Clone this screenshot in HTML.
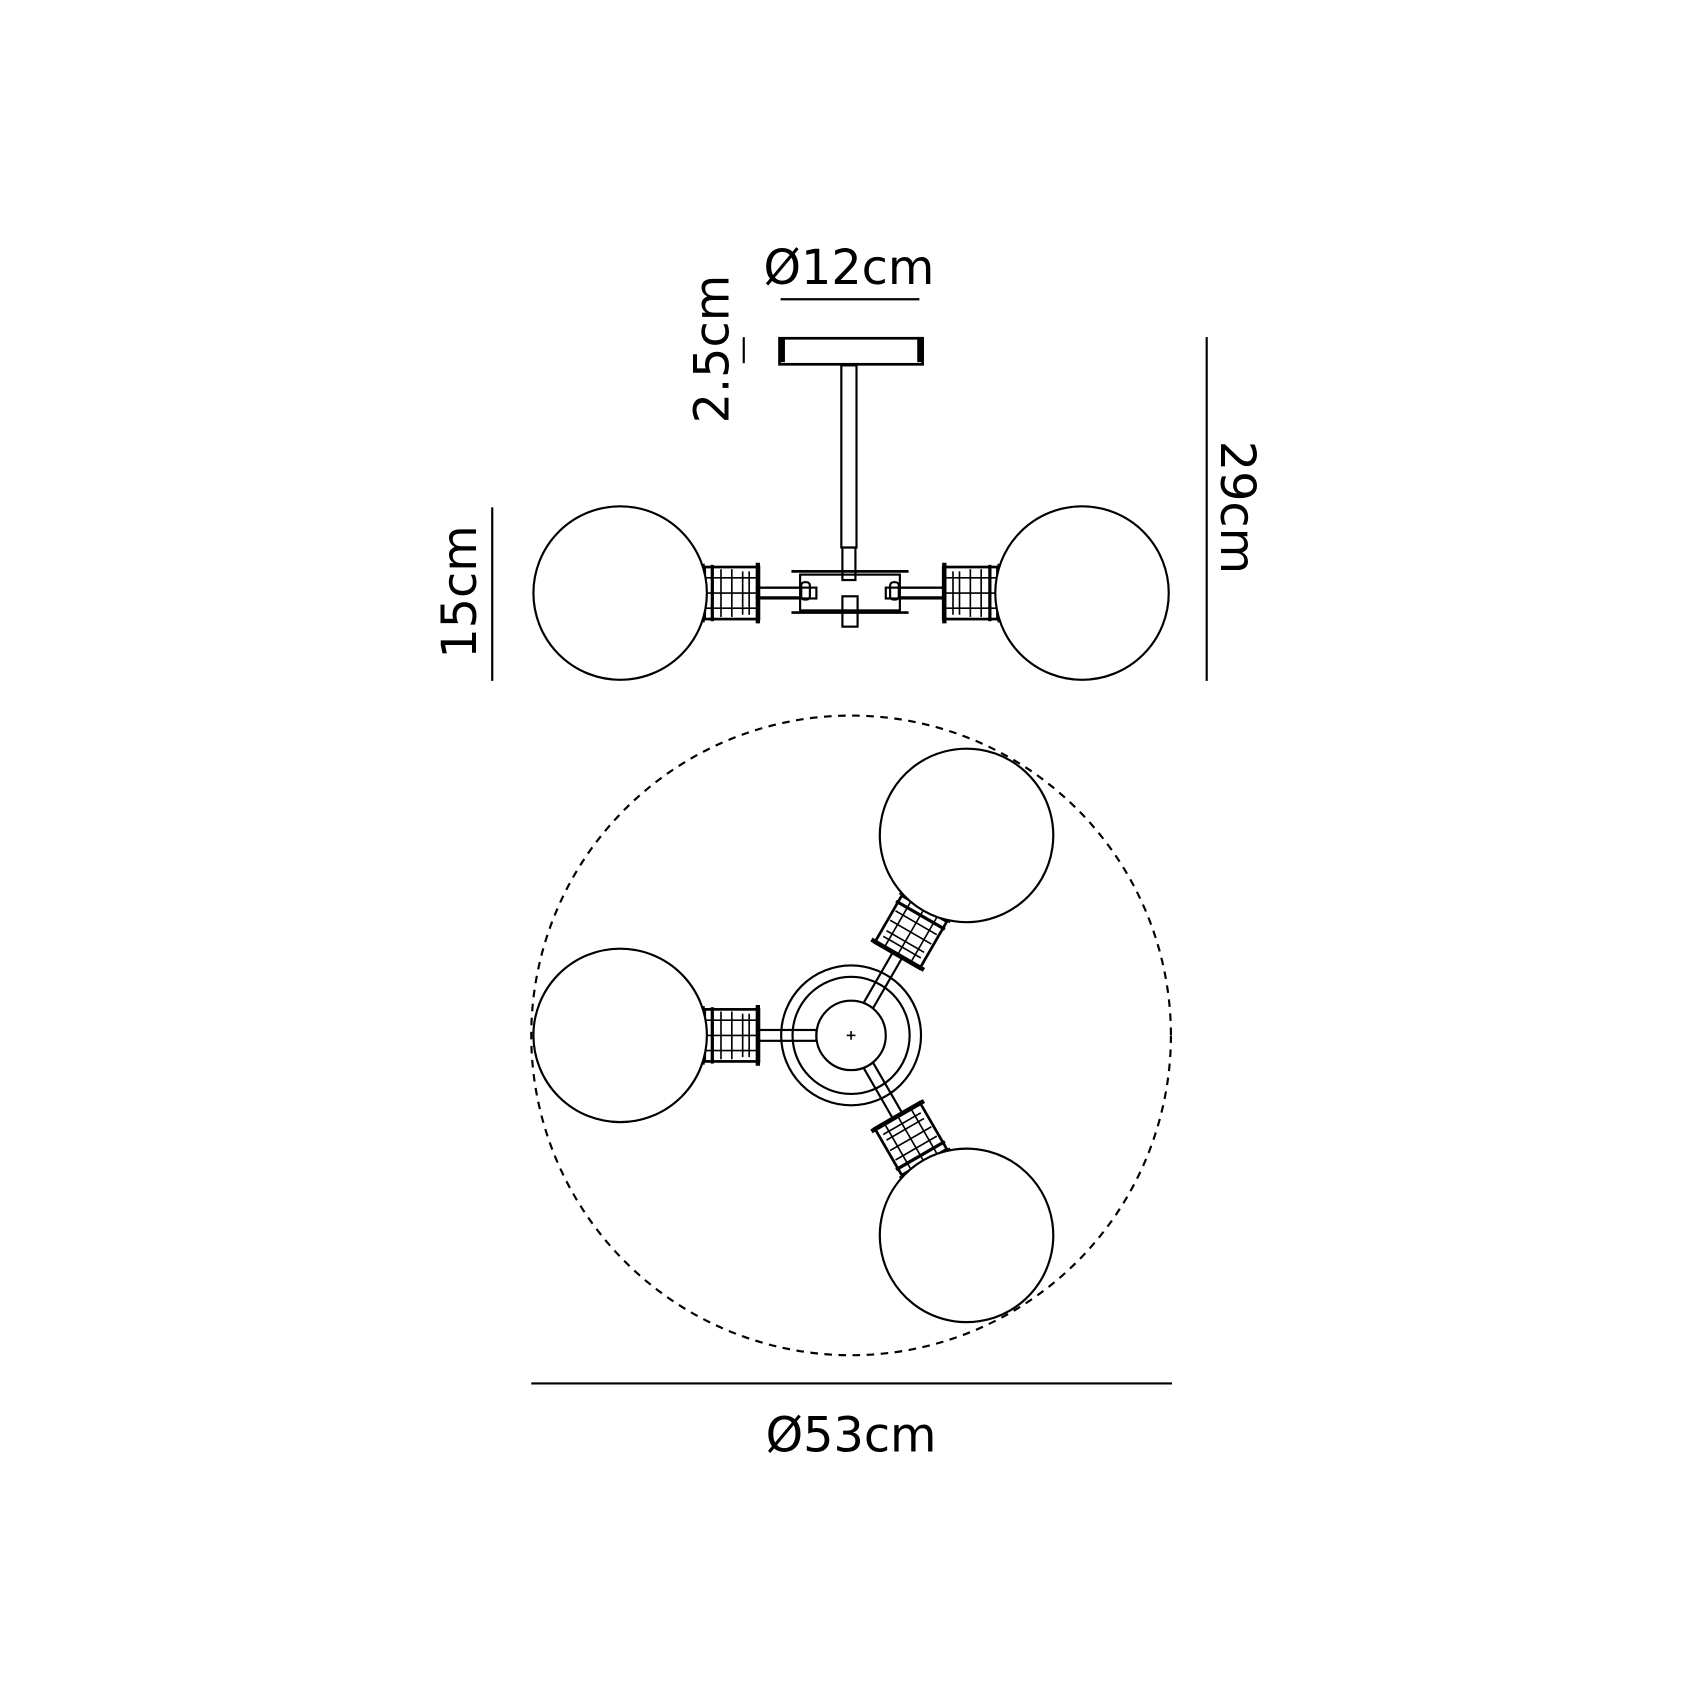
<!DOCTYPE html>
<html><head><style>html,body{margin:0;padding:0;background:#fff}svg{display:block}</style></head>
<body>
<svg width="1700" height="1700" viewBox="0 0 1568 1568" xmlns="http://www.w3.org/2000/svg" font-family="'DejaVu Sans','Liberation Sans',sans-serif" fill="none" stroke="#000">
<defs>
<g id="sock">
  <rect x="-85" y="-5" width="53" height="10" stroke-width="2"/>
  <rect x="-135" y="-24" width="50" height="48" stroke-width="2.5"/>
  <line x1="-137" y1="-27" x2="-137" y2="27" stroke-width="4"/>
  <line x1="-86" y1="-28" x2="-86" y2="28" stroke-width="4"/>
  <line x1="-128" y1="-26" x2="-128" y2="26" stroke-width="3"/>
  <line x1="-120" y1="-22" x2="-120" y2="22" stroke-width="1.5"/>
  <line x1="-110" y1="-22" x2="-110" y2="22" stroke-width="1.5"/>
  <line x1="-100" y1="-20" x2="-100" y2="20" stroke-width="1.5"/>
  <line x1="-94" y1="-20" x2="-94" y2="20" stroke-width="1.5"/>
  <line x1="-135" y1="-14" x2="-86" y2="-14" stroke-width="1.5"/>
  <line x1="-135" y1="0" x2="-86" y2="0" stroke-width="1.5"/>
  <line x1="-135" y1="14" x2="-86" y2="14" stroke-width="1.5"/>
  <circle cx="-213" cy="0" r="80" stroke-width="2" fill="#fff"/>
</g>
</defs>

<!-- side view -->
<text x="783" y="262" font-size="44" fill="#000" stroke="none" text-anchor="middle">Ø12cm</text>
<line x1="720" y1="276" x2="848" y2="276" stroke-width="2"/>
<rect x="719" y="312" width="132" height="24" stroke-width="2.5"/>
<line x1="722" y1="313" x2="722" y2="334" stroke-width="4"/>
<line x1="848" y1="313" x2="848" y2="334" stroke-width="4"/>
<text transform="translate(672,322) rotate(-90)" font-size="44" fill="#000" stroke="none" text-anchor="middle">2.5cm</text>
<line x1="686" y1="311" x2="686" y2="335" stroke-width="2"/>
<rect x="776" y="337" width="14" height="168" stroke-width="2"/>
<rect x="777" y="505" width="12" height="30" stroke-width="2"/>
<line x1="730" y1="527" x2="838" y2="527" stroke-width="2.5"/>
<line x1="730" y1="565" x2="838" y2="565" stroke-width="2.5"/>
<rect x="738" y="530" width="92" height="33" stroke-width="2"/>
<rect x="739" y="537" width="8" height="16" rx="3" stroke-width="2"/>
<rect x="821" y="537" width="8" height="16" rx="3" stroke-width="2"/>
<rect x="777" y="550" width="14" height="28" stroke-width="2"/>
<line x1="697" y1="542" x2="738" y2="542" stroke-width="2"/>
<line x1="697" y1="551" x2="738" y2="551" stroke-width="2"/>
<line x1="830" y1="542" x2="870" y2="542" stroke-width="2"/>
<line x1="830" y1="551" x2="870" y2="551" stroke-width="2"/>
<g transform="translate(785,547)"><use href="#sock"/></g>
<g transform="translate(785,547) scale(-1,1)"><use href="#sock"/></g>
<line x1="454" y1="468" x2="454" y2="628" stroke-width="2"/>
<text transform="translate(439,546) rotate(-90)" font-size="44" fill="#000" stroke="none" text-anchor="middle">15cm</text>
<line x1="1113" y1="311" x2="1113" y2="628" stroke-width="2"/>
<text transform="translate(1126,468) rotate(90)" font-size="44" fill="#000" stroke="none" text-anchor="middle">29cm</text>

<!-- top view -->
<circle cx="785" cy="955" r="295" stroke-width="2" stroke-dasharray="7,6"/>
<circle cx="785" cy="955" r="64.5" stroke-width="2"/>
<circle cx="785" cy="955" r="54" stroke-width="2"/>
<g transform="translate(785,955)"><use href="#sock"/></g>
<g transform="translate(785,955) rotate(120)"><use href="#sock"/></g>
<g transform="translate(785,955) rotate(240)"><use href="#sock"/></g>
<circle cx="785" cy="955" r="32" stroke-width="2" fill="#fff"/>
<line x1="781" y1="955" x2="789" y2="955" stroke-width="1.5"/>
<line x1="785" y1="951" x2="785" y2="959" stroke-width="1.5"/>
<line x1="490" y1="1276" x2="1081" y2="1276" stroke-width="2"/>
<text x="785" y="1339" font-size="44" fill="#000" stroke="none" text-anchor="middle">Ø53cm</text>
</svg>
</body></html>
